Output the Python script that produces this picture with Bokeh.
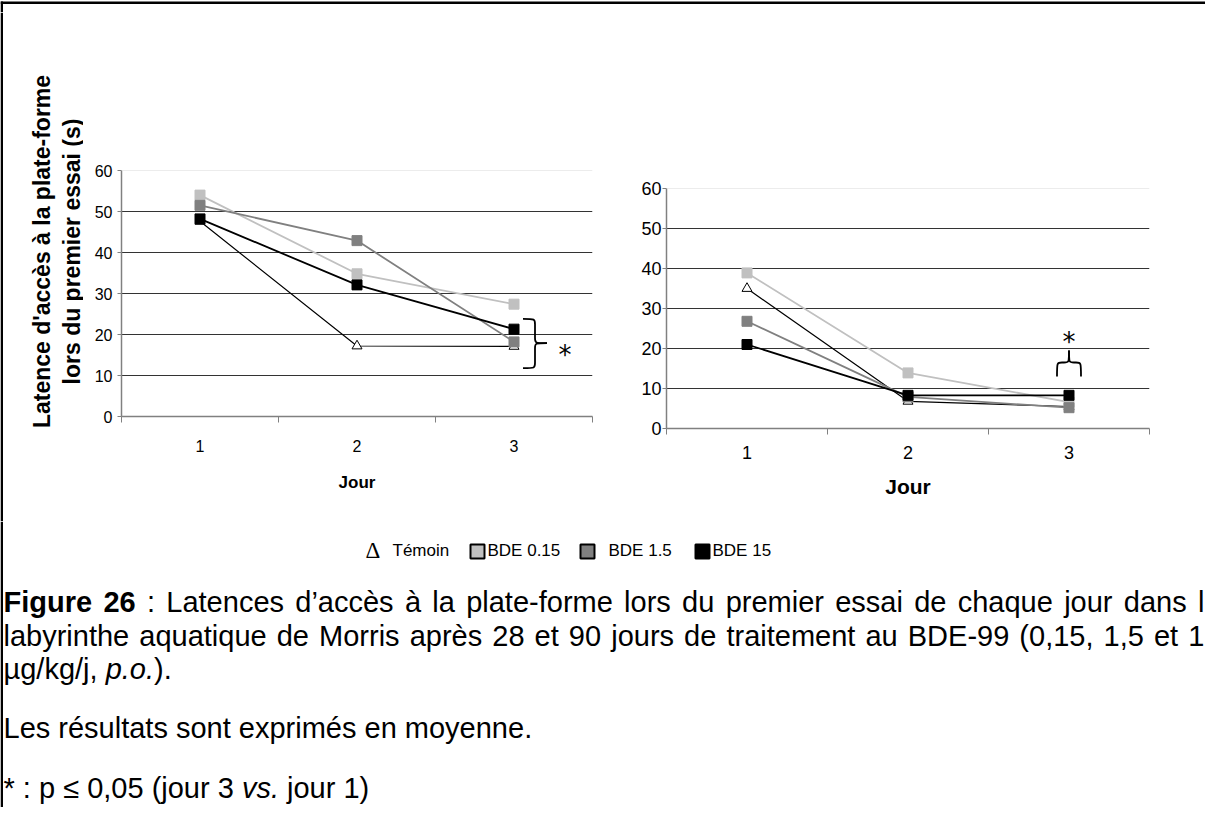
import numpy as np
from bokeh.plotting import figure
from bokeh.models import Range1d, FixedTicker, Span, Spacer
from bokeh.layouts import row, column
from bokeh.embed import file_html
from bokeh.resources import INLINE
from bokeh.core.properties import value

# ---------------- data ----------------
days = [1, 2, 3]
day_labels = ["1", "2", "3"]
y_ticks = [0, 10, 20, 30, 40, 50, 60]
series = ["Témoin", "BDE 0.15", "BDE 1.5", "BDE 15"]

# after 28 days of treatment (left panel)
temoin_28 = [47.6, 17.2, 17.1]
bde015_28 = [54.0, 34.8, 27.4]
bde1p5_28 = [51.5, 42.9, 18.2]
bde15_28 = [48.2, 32.1, 21.3]

# after 90 days of treatment (right panel)
temoin_90 = [35.0, 6.8, 5.5]
bde015_90 = [38.9, 13.9, 6.6]
bde1p5_90 = [26.8, 7.9, 5.2]
bde15_90 = [21.0, 8.3, 8.3]

ylabel_1 = "Latence d'accès à la plate-forme"
ylabel_2 = "lors du premier essai (s)"
xlabel = "Jour"
star = "*"

caption_1 = "Figure 26 : Latences d’accès à la plate-forme lors du premier essai de chaque jour dans le"
caption_2 = "labyrinthe aquatique de Morris après 28 et 90 jours de traitement au BDE-99 (0,15, 1,5 et 15"
caption_3 = [("µg/kg/j,", "normal", True), ("p.o.", "italic", False), (").", "normal", False)]
caption_4 = "Les résultats sont exprimés en moyenne."
caption_5 = "* : p ≤ 0,05 (jour 3 | vs. | jour 1)"

FONT = "Liberation Sans"

STYLE = {
    "Témoin": dict(color="black", lw=1.2, marker="triangle", fill="white", line="black", size=10),
    "BDE 0.15": dict(color="#c0c0c0", lw=1.8, marker="square", fill="#c0c0c0", line="#c0c0c0", size=10),
    "BDE 1.5": dict(color="#808080", lw=1.8, marker="square", fill="#808080", line="#808080", size=10),
    "BDE 15": dict(color="black", lw=1.8, marker="square", fill="black", line="black", size=10),
}

PAGE_R = 1213
FRAME_LINE = "black"


def make_chart(width, height, mbl, mbr, mbt, mbb, values, tick_fs, xtick_standoff,
               xlab_fs, xlab_standoff, ytick_standoff):
    p = figure(width=width, height=height, x_range=Range1d(0.5, 3.5), y_range=Range1d(0, 60),
               output_backend="svg", toolbar_location=None,
               min_border_left=mbl, min_border_right=mbr, min_border_top=mbt, min_border_bottom=mbb)
    p.outline_line_color = None
    p.background_fill_color = "white"
    p.border_fill_color = "white"
    p.xgrid.visible = False
    p.ygrid.ticker = FixedTicker(ticks=[10, 20, 30, 40, 50])
    p.ygrid.grid_line_color = "#333333"
    p.ygrid.grid_line_width = 1
    p.add_layout(Span(location=60, dimension="width", line_color="#d9d9d9", line_width=1))

    xa = p.xaxis[0]
    xa.ticker = FixedTicker(ticks=days, minor_ticks=[0.5, 1.5, 2.5, 3.5])
    xa.major_label_overrides = dict(zip(days, day_labels))
    xa.major_tick_line_color = None
    xa.major_tick_out = 0
    xa.major_tick_in = 0
    xa.minor_tick_line_color = "#808080"
    xa.minor_tick_out = 6
    xa.minor_tick_in = 0
    xa.axis_line_color = "#808080"
    xa.axis_line_width = 1.5
    xa.major_label_text_font = FONT
    xa.major_label_text_font_size = f"{tick_fs}px"
    xa.major_label_text_color = "black"
    xa.major_label_standoff = xtick_standoff
    xa.axis_label = xlabel
    xa.axis_label_text_font = FONT
    xa.axis_label_text_font_style = "bold"
    xa.axis_label_text_font_size = f"{xlab_fs}px"
    xa.axis_label_standoff = xlab_standoff
    xa.axis_label_text_color = "black"

    ya = p.yaxis[0]
    ya.ticker = FixedTicker(ticks=y_ticks)
    ya.minor_tick_line_color = None
    ya.major_tick_out = 4
    ya.major_tick_in = 0
    ya.major_tick_line_color = "#808080"
    ya.axis_line_color = "#808080"
    ya.axis_line_width = 1.5
    ya.major_label_text_font = FONT
    ya.major_label_text_font_size = f"{tick_fs}px"
    ya.major_label_text_color = "black"
    ya.major_label_standoff = ytick_standoff

    for name, vals in zip(series, values):
        st = STYLE[name]
        p.line(days, vals, line_color=st["color"], line_width=st["lw"])
        p.scatter(days, vals, marker=st["marker"], size=st["size"], fill_color=st["fill"],
                  line_color=st["line"], line_width=1)
    return p


def off(frame, xd, yd, dx=0.0, dy=0.0):
    """data point moved by (dx, dy) screen pixels (dy positive = downward)."""
    return (xd + dx * 3.0 / (frame[1] - frame[0]), yd - dy * 60.0 / (frame[3] - frame[2]))


def draw_path(p, beziers, segments, lw=1.8):
    cols = list(zip(*[(s[0], s[1], e[0], e[1], c0[0], c0[1], c1[0], c1[1]) for s, e, c0, c1 in beziers]))
    p.bezier(x0=list(cols[0]), y0=list(cols[1]), x1=list(cols[2]), y1=list(cols[3]),
             cx0=list(cols[4]), cy0=list(cols[5]), cx1=list(cols[6]), cy1=list(cols[7]),
             line_color="black", line_width=lw)
    sc = list(zip(*[(s[0], s[1], e[0], e[1]) for s, e in segments]))
    p.segment(x0=list(sc[0]), y0=list(sc[1]), x1=list(sc[2]), y1=list(sc[3]),
              line_color="black", line_width=lw)


def page_fig(x0, x1, y0, y1):
    """A plain figure whose data coordinates are page pixels (y downward)."""
    f = figure(width=x1 - x0, height=y1 - y0, x_range=Range1d(x0, x1), y_range=Range1d(y1, y0),
               output_backend="svg", toolbar_location=None, x_axis_type=None, y_axis_type=None,
               min_border=0)
    f.outline_line_color = None
    f.background_fill_color = "white"
    f.border_fill_color = "white"
    f.quad(left=[8], right=[10.5], top=[max(y0, 9)], bottom=[y1], fill_color=FRAME_LINE, line_color=None)
    return f


# ---------------- page geometry (page pixels) ----------------
ROW_TOP, ROW_BOT = 20, 529
LF = (129, 600, 178, 424)   # left frame: left, right, top, bottom
RF = (674, 1157, 196, 436)  # right frame
YLAB_R = 91
SPLIT = 614
TOPB, BOTB = 100, 90

top_band = page_fig(8, PAGE_R, 8, ROW_TOP)
top_band.quad(left=[8], right=[PAGE_R], top=[9], bottom=[11.5], fill_color=FRAME_LINE, line_color=None)

ylab = page_fig(8, YLAB_R, ROW_TOP, ROW_BOT)
ylab.text(x=[49, 79], y=[259, 259], text=[ylabel_1, ylabel_2], angle=np.pi / 2,
          text_font=value(FONT), text_font_style="bold", text_font_size="23px",
          text_align="center", text_baseline="middle", text_color="black")

left = make_chart(SPLIT - YLAB_R, TOPB + (LF[3] - LF[2]) + BOTB,
                  LF[0] - YLAB_R, SPLIT - LF[1], TOPB, BOTB,
                  [temoin_28, bde015_28, bde1p5_28, bde15_28],
                  tick_fs=16, xtick_standoff=17, xlab_fs=17, xlab_standoff=18, ytick_standoff=5)
right = make_chart(PAGE_R - SPLIT, TOPB + (RF[3] - RF[2]) + BOTB,
                   RF[0] - SPLIT, PAGE_R - RF[1], TOPB, BOTB,
                   [temoin_90, bde015_90, bde1p5_90, bde15_90],
                   tick_fs=18, xtick_standoff=11, xlab_fs=21, xlab_standoff=13, ytick_standoff=1)

# brace + star on left panel (pointing right), anchored on day 3
r = 5
ye_t, y_m, ye_b = 23.8, 17.9, 11.8
P = lambda dx, yd, dy=0: off(LF, 3, yd, dx, dy)
left_bez = [
    (P(9, ye_t), P(21, ye_t, r), P(21, ye_t), P(21, ye_t)),
    (P(21, y_m, -r), P(33, y_m), P(21, y_m), P(21, y_m)),
    (P(33, y_m), P(21, y_m, r), P(21, y_m), P(21, y_m)),
    (P(21, ye_b, -r), P(9, ye_b), P(21, ye_b), P(21, ye_b)),
]
left_seg = [(P(21, ye_t, r), P(21, y_m, -r)), (P(21, y_m, r), P(21, ye_b, -r))]
draw_path(left, left_bez, left_seg)
sx, sy = P(51, 16.7)
left.text(x=[sx], y=[sy], text=[star], text_font=value("DejaVu Sans"), text_font_size="26px",
          text_align="center", text_baseline="middle", y_offset=7, text_color="black")

# brace + star on right panel (pointing up), centred on day 3
yb_e, yb_s, yb_t = 13.0, 16.5, 19.5
Q = lambda dx, yd, dy=0: off(RF, 3, yd, dx, dy)
right_bez = [
    (Q(-12, yb_e), Q(-12 + r, yb_s), Q(-12, yb_s), Q(-12, yb_s)),
    (Q(-r, yb_s), Q(0, yb_t), Q(0, yb_s), Q(0, yb_s)),
    (Q(0, yb_t), Q(r, yb_s), Q(0, yb_s), Q(0, yb_s)),
    (Q(12 - r, yb_s), Q(12, yb_e), Q(12, yb_s), Q(12, yb_s)),
]
right_seg = [(Q(-12 + r, yb_s), Q(-r, yb_s)), (Q(r, yb_s), Q(12 - r, yb_s))]
draw_path(right, right_bez, right_seg)
sx, sy = Q(0, 23.3)
right.text(x=[sx], y=[sy], text=[star], text_font=value("DejaVu Sans"), text_font_size="26px",
           text_align="center", text_baseline="middle", y_offset=7, text_color="black")

left_col = column(Spacer(width=SPLIT - YLAB_R, height=LF[2] - TOPB - ROW_TOP), left)
right_col = column(Spacer(width=PAGE_R - SPLIT, height=RF[2] - TOPB - ROW_TOP), right)

# ---------------- caption / legend ----------------
cap = page_fig(8, PAGE_R, ROW_BOT, 815)

LEG_Y = 558
cap.text(x=[373], y=[LEG_Y], text=["Δ"], text_font=value("Liberation Serif"), text_font_size="23px",
         text_baseline="middle", text_color="black")
leg_names = ["Témoin", "BDE 0.15", "BDE 1.5", "BDE 15"]
leg_text_x = [400, 495, 616, 720]
leg_box_x = [None, 485, 595, 710]
leg_fill = [None, "#c0c0c0", "#808080", "black"]
for bx, col in zip(leg_box_x, leg_fill):
    if bx is not None:
        cap.rect(x=[bx], y=[LEG_Y + 1], width=14, height=14, fill_color=col,
                 line_color="black", line_width=2)
cap.text(x=leg_text_x, y=[LEG_Y] * 4, text=leg_names,
         text_font=value(FONT), text_font_size="17px", text_baseline="middle", text_color="black")

# caption text layout (Arial / Liberation Sans advance widths, per 1000 em)
FS = 29
REG = {' ': 278, '(': 333, ')': 333, '*': 389, ',': 278, '-': 333, '.': 278, '/': 278, ':': 278,
       '’': 222, "'": 191, 'B': 667, 'D': 722, 'E': 667, 'F': 611, 'L': 556, 'M': 833, 'T': 611,
       'a': 556, 'b': 556, 'c': 500, 'd': 556, 'e': 556, 'f': 278, 'g': 556, 'h': 556, 'i': 222,
       'j': 222, 'k': 500, 'l': 222, 'm': 833, 'n': 556, 'o': 556, 'p': 556, 'q': 556, 'r': 333,
       's': 500, 't': 278, 'u': 556, 'v': 500, 'x': 500, 'y': 500, 'é': 556, 'è': 556, 'à': 556,
       'µ': 576, '≤': 549}
for d in "0123456789":
    REG[d] = 556
BOLD = dict(REG)
BOLD.update({'F': 611, 'i': 278, 'g': 611, 'u': 611, 'r': 389, 'e': 556})


def tw(s, style):
    tbl = BOLD if style == "bold" else REG
    return sum(tbl.get(c, 556) for c in s) * FS / 1000.0


X0, XR = 11, 1228
words = {"normal": ([], [], []), "bold": ([], [], []), "italic": ([], [], [])}


def put(tokens, y, justify=False):
    total = sum(tw(w, s) for w, s, _ in tokens)
    nsp = sum(1 for _, _, sp in tokens if sp)
    gap = (XR - X0 - total) / nsp if justify else tw(" ", "normal")
    x = X0
    for w, s, sp in tokens:
        words[s][0].append(x); words[s][1].append(y); words[s][2].append(w)
        x += tw(w, s) + (gap if sp else 0)


t1 = caption_1.split(" ")
tok1 = [(w, "bold" if i < 2 else "normal", i < len(t1) - 1) for i, w in enumerate(t1)]
t2 = caption_2.split(" ")
tok2 = [(w, "normal", i < len(t2) - 1) for i, w in enumerate(t2)]
t4 = caption_4.split(" ")
tok4 = [(w, "normal", i < len(t4) - 1) for i, w in enumerate(t4)]
tok5 = []
parts = caption_5.split(" | ")
for pi, (part, sty) in enumerate(zip(parts, ["normal", "italic", "normal"])):
    ws = part.split(" ")
    for i, w in enumerate(ws):
        tok5.append((w, sty, not (pi == len(parts) - 1 and i == len(ws) - 1)))

put(tok1, 609, justify=True)
put(tok2, 643, justify=True)
put(caption_3, 676)
put(tok4, 735)
put(tok5, 795)

for sty, (xs_, ys_, ts_) in words.items():
    if ts_:
        cap.text(x=xs_, y=ys_, text=ts_, text_font=value(FONT), text_font_size=f"{FS}px",
                 text_font_style=sty, text_baseline="middle", text_color="black")

layout = column(top_band, row(ylab, left_col, right_col), cap)

open("out.html", "w").write(file_html(layout, INLINE))
